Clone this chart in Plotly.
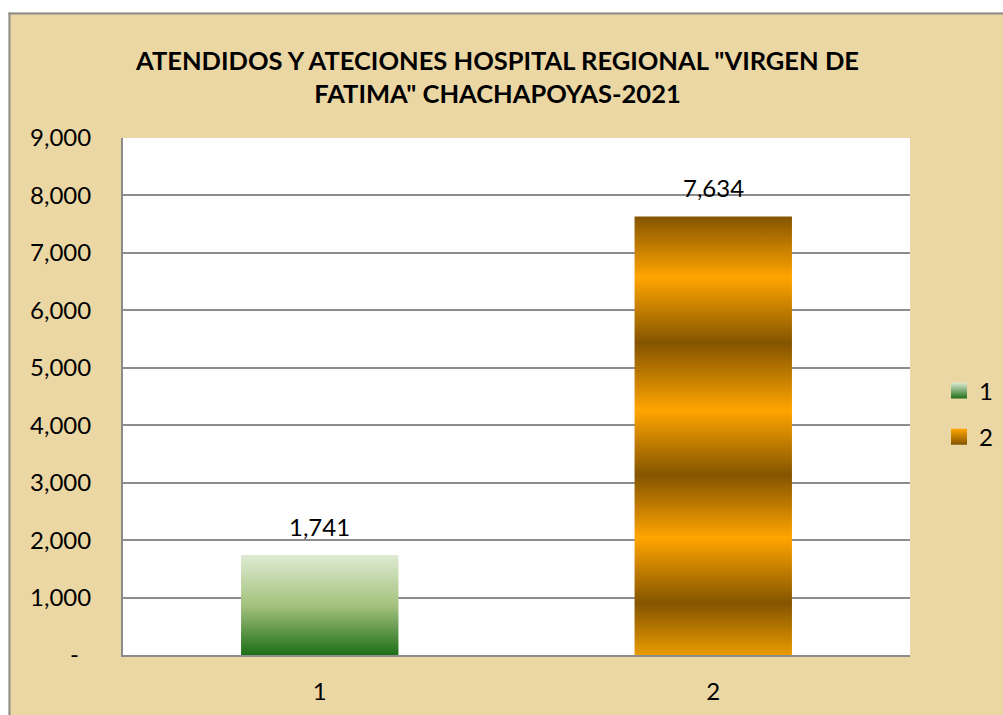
import plotly.graph_objects as go

# ---- data ----
categories = ["1", "2"]
values = [1741, 7634]
value_labels = ["1,741", "7,634"]
y_tickvals = [0, 1000, 2000, 3000, 4000, 5000, 6000, 7000, 8000, 9000]
y_ticktext = ["-  ", "1,000", "2,000", "3,000", "4,000", "5,000", "6,000", "7,000", "8,000", "9,000"]
title_text = 'ATENDIDOS Y ATECIONES HOSPITAL REGIONAL "VIRGEN DE<br>FATIMA" CHACHAPOYAS-2021'

# ---- styles ----
green_scale = [[0, "#1E6E18"], [0.5, "#A5C27E"], [1, "#DEEBD3"]]
orange_scale = [[0, "#E99B00"], [0.118, "#845400"], [0.267, "#FFA500"], [0.41, "#845400"],
                [0.558, "#FFA500"], [0.711, "#845400"], [0.861, "#FFA500"], [1, "#845400"]]
scales = [green_scale, orange_scale]
legend_colors = [("#DEEBD3", "#1E6E18"), ("#FFA500", "#845400")]
BAR_HALF = 0.2
FONT = "Lato"
BG = "#EBD7A3"
GRID = "#8C8C8C"

W, H = 1003, 715
L, T = 123, 138
R, B = W - 910, H - 655
PW, PH = W - L - R, H - T - B


def px_x(p):  # page pixel -> paper x
    return (p - L) / PW


def px_y(p):  # page pixel -> paper y
    return (H - B - p) / PH


fig = go.Figure()
for i, (cat, v) in enumerate(zip(categories, values)):
    fig.add_trace(go.Scatter(
        x=[i - BAR_HALF, i + BAR_HALF, i + BAR_HALF, i - BAR_HALF, i - BAR_HALF],
        y=[0, 0, v, v, 0],
        mode="lines", fill="toself",
        fillgradient=dict(type="vertical", colorscale=scales[i]),
        line=dict(width=0, color=scales[i][1][1]),
        name=cat, showlegend=False, hoverinfo="skip",
    ))
    fig.add_annotation(x=i, y=v, text=value_labels[i], showarrow=False,
                       yanchor="bottom", yshift=12,
                       font=dict(family=FONT, size=24, color="#000000"))

# legend swatches
for i, cat in enumerate(categories):
    c0, c1 = legend_colors[i]
    fig.add_trace(go.Scatter(x=[None], y=[None], mode="markers", name=cat,
                             legendgroup=cat,
                             marker=dict(symbol="square", size=16, color=c0,
                                         line=dict(width=0),
                                         gradient=dict(type="vertical", color=c1))))

fig.update_layout(
    width=W, height=H,
    margin=dict(l=L, r=R, t=T, b=B, autoexpand=False),
    paper_bgcolor=BG, plot_bgcolor="#FFFFFF",
    title=dict(text=title_text, x=497.5 / W, xanchor="center", xref="container",
               y=1 - 70 / H, yanchor="top", yref="container",
               font=dict(family=FONT, size=25.5, color="#000000", weight="bold")),
    font=dict(family=FONT, size=24, color="#000000"),
    showlegend=True,
    legend=dict(x=939 / W, xref="container", y=1 - 414 / H, yref="container",
                xanchor="left", yanchor="middle",
                bgcolor="rgba(0,0,0,0)", traceorder="grouped", tracegroupgap=12,
                font=dict(family=FONT, size=24, color="#000000")),
    xaxis=dict(range=[-0.5, 1.5], tickvals=list(range(len(categories))), ticktext=categories,
               showgrid=False, zeroline=False, showline=True, linecolor=GRID, linewidth=2,
               ticks="", ticklabelstandoff=14, fixedrange=True, automargin=False),
    yaxis=dict(range=[0, 9000], tickvals=y_tickvals, ticktext=y_ticktext,
               showgrid=True, gridcolor=GRID, gridwidth=2, zeroline=False,
               showline=True, linecolor=GRID, linewidth=2,
               ticks="", ticklabelstandoff=25, fixedrange=True, automargin=False),
    shapes=[
        dict(type="rect", xref="paper", yref="paper", x0=px_x(-20), x1=px_x(8.5),
             y0=px_y(740), y1=px_y(-20), fillcolor="#FFFFFF", line=dict(width=0), layer="above"),
        dict(type="rect", xref="paper", yref="paper", x0=px_x(-20), x1=px_x(1030),
             y0=px_y(12.5), y1=px_y(-20), fillcolor="#FFFFFF", line=dict(width=0), layer="above"),
        dict(type="line", xref="paper", yref="paper", x0=px_x(9.5), x1=px_x(9.5),
             y0=px_y(740), y1=px_y(12.5), line=dict(color=GRID, width=2), layer="above"),
        dict(type="line", xref="paper", yref="paper", x0=px_x(8.5), x1=px_x(1030),
             y0=px_y(13.5), y1=px_y(13.5), line=dict(color=GRID, width=2), layer="above"),
    ],
)

fig.write_html("out.html", config={"displayModeBar": False},
               post_script="document.body.style.margin='0';document.body.style.overflow='hidden';")
